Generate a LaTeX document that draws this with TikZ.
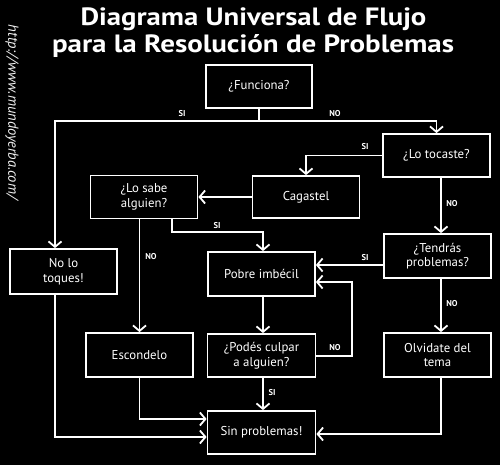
\documentclass[tikz,border=0pt]{standalone}
\usepackage{fontspec}
\setmainfont{PT Sans}
\usetikzlibrary{arrows.meta}
\begin{document}
\begin{tikzpicture}[x=1pt,y=-1pt,
  box/.style={draw=white,line width=1.8pt,text=white,minimum width=107pt,minimum height=43pt,align=center,inner sep=1pt,font=\fontsize{12.8}{14.5}\selectfont},
  conn/.style={draw=white,line width=1.8pt},
  arr/.style={conn,-{Straight Barb[length=5.5pt,width=13pt]}},
  lab/.style={text=white,font=\bfseries\fontsize{8.5}{9}\selectfont,inner sep=0pt},
  ttl/.style={text=white,font=\bfseries\fontsize{25}{26}\selectfont,inner sep=0pt}]
\fill[black] (0,0) rectangle (500,465);
\useasboundingbox (0,0) rectangle (500,465);
% title
\node[ttl,anchor=base] (t1) at (253.5,26) {\scalebox{1.15}[1]{Diagrama Universal de Flujo}};
\node[ttl,anchor=base] (t2) at (253,53) {\scalebox{1.16}[1]{para la Resolución de Problemas}};
\node[text=white!90!gray,font=\itshape\fontsize{14.5}{15}\selectfont,rotate=-90,inner sep=0pt] (url) at (12,112) {http://www.mundoyerba.com/};
% boxes
\node[box,minimum width=106pt] (fun) at (259,86.5) {¿Funciona?};
\node[box] (toc) at (436.5,155.5) {¿Lo tocaste?};
\node[box,minimum height=42pt] (cag) at (306,197) {Cagastel};
\node[box] (sabe) at (144,197) {¿Lo sabe\\alguien?};
\node[box,minimum height=45pt] (toq) at (63.5,271.5) {No lo\\toques!};
\node[box,minimum height=44pt] (ten) at (437.5,256) {¿Tendrás\\problemas?};
\node[box,minimum height=44pt] (pob) at (261.5,274) {Pobre imbécil};
\node[box,minimum height=44pt] (esc) at (139.5,355) {Escondelo};
\node[box,minimum width=108pt] (pod) at (261.5,355.5) {¿Podés culpar\\a alguien?};
\node[box,minimum height=44pt] (olv) at (437.5,355) {Olvidate del\\tema};
\node[box,minimum width=108pt] (sin) at (261.5,432.5) {Sin problemas!};
% helper coordinates
\coordinate (j1) at (259,121);
\coordinate (xL) at (55,0);
\coordinate (xR) at (441,0);
\coordinate (xS) at (172,0);
\coordinate (xP) at (263,0);
\coordinate (yS) at (0,265);
\coordinate (yA) at (0,232);
\coordinate (yN1) at (0,356);
\coordinate (yN2) at (0,282);
\coordinate (xN) at (352,0);
\coordinate (yE) at (0,419);
\coordinate (yT) at (0,437);
\coordinate (yO) at (0,434);
% connectors
\draw[conn] (fun.south) -- (j1);
\draw[arr] (j1) -| (toq.north -| xL);
\draw[arr] (j1) -| (toc.north);
\draw[arr] (toc.west) -| (cag.north);
\draw[arr] (cag.west) -- (sabe.east);
\draw[arr] (sabe.south -| xS) |- (yA -| xP) -- (pob.north -| xP);
\draw[arr] (sabe.south -| esc.north) -- (esc.north);
\draw[arr] (toc.south -| xR) -- (ten.north -| xR);
\draw[arr] (ten.west |- yS) -- (pob.east |- yS);
\draw[arr] (pob.south -| xP) -- (pod.north -| xP);
\draw[arr] (pod.east |- yN1) -| (yN2 -| xN) -- (pob.east |- yN2);
\draw[arr] (pod.south -| xP) -- (sin.north -| xP);
\draw[arr] (ten.south -| xR) -- (olv.north -| xR);
\draw[arr] (esc.south) |- (sin.west |- yE);
\draw[arr] (toq.south -| xL) |- (sin.west |- yT);
\draw[arr] (olv.south -| xR) |- (sin.east |- yO);
% labels
\node[lab] (l1) at (182,114) {SI};
\node[lab] (l2) at (335,114) {NO};
\node[lab] (l3) at (365,147) {SI};
\node[lab] (l4) at (217,226) {SI};
\node[lab] (l5) at (151,257) {NO};
\node[lab] (l6) at (452,204) {NO};
\node[lab] (l7) at (365,258) {SI};
\node[lab] (l8) at (335,348) {NO};
\node[lab] (l9) at (272,393) {SI};
\node[lab] (l10) at (452,304) {NO};
\end{tikzpicture}
\end{document}
